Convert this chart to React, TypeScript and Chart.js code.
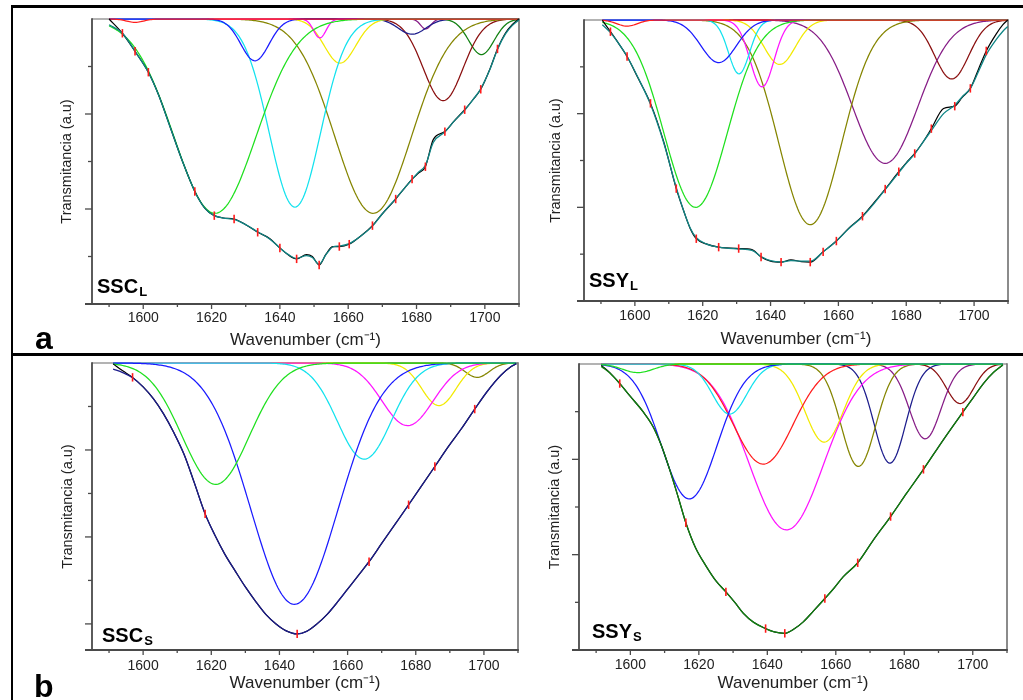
import React, { useEffect, useRef } from 'react';
import { Chart, registerables } from 'chart.js';

Chart.register(...registerables);

const FONT = "'Liberation Sans', Arial, Helvetica, sans-serif";

// ---- shared axis values ----
const X_MIN = 1585;
const X_MAX = 1710;
const X_LABELS = [1600, 1620, 1640, 1660, 1680, 1700];
const X_TICK_MARKS = [1590, 1600, 1610, 1620, 1630, 1640, 1650, 1660, 1670, 1680, 1690, 1700, 1710];
const Y_TICK_MARKS = [1, 2, 3, 4, 5, 6];

const COL = {
  red: '#ff1c1c', green: '#1ee01e', blue: '#1a1aff', cyan: '#12e2ee', magenta: '#ff14ff',
  yellow: '#f2ea00', dkyellow: '#858500', navy: '#1c1c8c', purple: '#861c86', wine: '#8a0f0f',
  olive: '#118011', dkcyan: '#0f8585', black: '#000000',
};

// ---- SSC_L : deconvolution bands (center cm-1, depth a.u., sigma cm-1) ----
const SSCL_BAND_CENTER = [1597.6, 1621.0, 1632.7, 1644.4, 1651.7, 1657.6, 1667.3, 1678.7, 1682.7, 1687.8, 1699.0];
const SSCL_BAND_DEPTH = [0.07, 4.09, 0.88, 3.96, 0.40, 0.93, 4.09, 0.32, 0.21, 1.72, 0.75];
const SSCL_BAND_SIGMA = [2.5, 12.0, 4.1, 7.5, 1.8, 4.6, 11.2, 4.0, 1.5, 5.8, 3.7];
const SSCL_BAND_COLOR = [COL.red, COL.green, COL.blue, COL.cyan, COL.magenta, COL.yellow, COL.dkyellow, COL.navy, COL.purple, COL.wine, COL.olive];
const SSCL_X = [1590.0, 1593.9, 1597.6, 1601.5, 1604.5, 1608.0, 1611.5, 1615.1, 1618.0, 1620.8, 1623.5, 1626.6, 1630.0, 1633.5, 1637.0, 1640.0, 1642.5, 1644.9, 1647.8, 1649.5, 1651.5, 1653.5, 1655.5, 1657.4, 1660.3, 1663.5, 1667.1, 1670.0, 1673.9, 1676.5, 1678.7, 1680.5, 1682.6, 1684.9, 1688.3, 1691.0, 1694.1, 1696.5, 1698.8, 1701.5, 1703.7, 1706.0, 1708.0, 1710.0];
const SSCL_MEAS = [0.00, 0.30, 0.68, 1.12, 1.60, 2.30, 3.00, 3.63, 3.98, 4.14, 4.19, 4.21, 4.33, 4.49, 4.62, 4.82, 4.97, 5.05, 4.96, 5.00, 5.18, 4.95, 4.79, 4.79, 4.74, 4.58, 4.35, 4.10, 3.79, 3.56, 3.37, 3.25, 3.11, 2.54, 2.37, 2.15, 1.91, 1.70, 1.48, 1.05, 0.63, 0.30, 0.12, 0.00];
const SSCL_FIT = [0.12, 0.30, 0.68, 1.12, 1.60, 2.30, 3.00, 3.63, 3.98, 4.14, 4.19, 4.22, 4.33, 4.48, 4.63, 4.82, 4.96, 5.04, 4.98, 5.02, 5.16, 4.96, 4.80, 4.78, 4.73, 4.58, 4.36, 4.10, 3.78, 3.56, 3.38, 3.23, 3.08, 2.60, 2.38, 2.15, 1.92, 1.70, 1.47, 1.06, 0.64, 0.32, 0.14, 0.02];
const SSCL_MARK_X = [1593.9, 1597.6, 1601.5, 1615.1, 1620.8, 1626.6, 1633.5, 1640.0, 1644.9, 1651.5, 1657.4, 1660.3, 1667.1, 1673.9, 1678.7, 1682.6, 1688.3, 1694.1, 1698.8, 1703.7];
const SSCL_MARK_Y = [0.30, 0.68, 1.12, 3.63, 4.14, 4.21, 4.49, 4.82, 5.05, 5.18, 4.79, 4.74, 4.35, 3.79, 3.37, 3.11, 2.37, 1.91, 1.48, 0.63];

// ---- SSY_L ----
const SSYL_BAND_CENTER = [1597.7, 1617.9, 1624.7, 1630.7, 1637.5, 1642.7, 1651.7, 1673.8, 1693.4];
const SSYL_BAND_DEPTH = [0.13, 4.00, 0.91, 1.15, 1.43, 0.95, 4.37, 3.06, 1.26];
const SSYL_BAND_SIGMA = [3.0, 9.3, 5.2, 3.1, 3.5, 4.6, 9.2, 9.6, 5.0];
const SSYL_BAND_COLOR = [COL.red, COL.green, COL.blue, COL.cyan, COL.magenta, COL.yellow, COL.dkyellow, COL.purple, COL.wine];
const SSYL_X = [1590.4, 1592.8, 1595.2, 1597.7, 1601.0, 1604.6, 1608.5, 1612.2, 1614.5, 1616.3, 1618.1, 1621.0, 1624.7, 1630.6, 1634.5, 1637.2, 1640.0, 1643.1, 1646.0, 1649.0, 1651.7, 1655.5, 1659.4, 1663.0, 1667.1, 1670.5, 1673.8, 1677.8, 1680.0, 1682.5, 1685.0, 1687.4, 1691.0, 1694.3, 1696.5, 1698.9, 1701.3, 1703.6, 1706.5, 1708.5, 1709.9];
const SSYL_MEAS = [0.01, 0.25, 0.50, 0.78, 1.25, 1.78, 2.60, 3.60, 4.10, 4.45, 4.67, 4.78, 4.85, 4.88, 4.90, 5.06, 5.15, 5.17, 5.12, 5.16, 5.17, 4.95, 4.72, 4.45, 4.19, 3.90, 3.61, 3.24, 3.05, 2.85, 2.60, 2.32, 1.89, 1.84, 1.65, 1.46, 1.05, 0.66, 0.30, 0.10, 0.00];
const SSYL_FIT = [0.10, 0.27, 0.50, 0.78, 1.24, 1.80, 2.62, 3.58, 4.10, 4.44, 4.65, 4.78, 4.85, 4.89, 4.92, 5.05, 5.14, 5.17, 5.14, 5.15, 5.15, 4.95, 4.72, 4.46, 4.20, 3.92, 3.62, 3.26, 3.06, 2.86, 2.60, 2.36, 2.00, 1.82, 1.64, 1.46, 1.10, 0.74, 0.42, 0.24, 0.14];
const SSYL_MARK_X = [1592.8, 1597.7, 1604.6, 1612.2, 1618.1, 1624.7, 1630.6, 1637.2, 1643.1, 1651.7, 1655.5, 1659.4, 1667.1, 1673.8, 1677.8, 1682.5, 1687.4, 1694.3, 1698.9, 1703.6];
const SSYL_MARK_Y = [0.25, 0.78, 1.78, 3.60, 4.67, 4.85, 4.88, 5.06, 5.17, 5.17, 4.95, 4.72, 4.19, 3.61, 3.24, 2.85, 2.32, 1.84, 1.46, 0.66];

// ---- SSC_S ----
const SSCS_BAND_CENTER = [1621.3, 1644.4, 1664.9, 1677.6, 1686.8, 1698.0];
const SSCS_BAND_DEPTH = [2.79, 5.55, 2.21, 1.44, 0.98, 0.33];
const SSCS_BAND_SIGMA = [9.8, 12.8, 7.9, 7.5, 5.0, 3.5];
const SSCS_BAND_COLOR = [COL.green, COL.blue, COL.cyan, COL.magenta, COL.yellow, COL.dkyellow];
const SSCS_X = [1591.2, 1594.0, 1596.9, 1600.0, 1603.0, 1606.0, 1609.0, 1612.0, 1615.0, 1618.2, 1621.0, 1624.0, 1627.0, 1630.0, 1633.0, 1636.0, 1639.0, 1642.0, 1645.2, 1648.0, 1651.0, 1654.0, 1657.0, 1660.0, 1663.0, 1666.3, 1670.0, 1674.0, 1677.9, 1681.5, 1685.6, 1689.5, 1693.5, 1697.3, 1701.0, 1705.0, 1708.0, 1709.5];
const SSCS_MEAS = [0.02, 0.18, 0.33, 0.55, 0.82, 1.17, 1.60, 2.10, 2.75, 3.47, 3.95, 4.40, 4.78, 5.15, 5.48, 5.78, 6.00, 6.16, 6.23, 6.17, 6.00, 5.78, 5.50, 5.20, 4.90, 4.57, 4.15, 3.70, 3.26, 2.85, 2.38, 1.93, 1.50, 1.06, 0.65, 0.28, 0.08, 0.02];
const SSCS_FIT = [0.14, 0.22, 0.34, 0.55, 0.82, 1.17, 1.60, 2.10, 2.75, 3.47, 3.95, 4.40, 4.78, 5.15, 5.48, 5.78, 6.00, 6.16, 6.23, 6.17, 6.00, 5.78, 5.50, 5.20, 4.90, 4.57, 4.15, 3.70, 3.26, 2.85, 2.38, 1.93, 1.50, 1.06, 0.65, 0.28, 0.08, 0.02];
const SSCS_MARK_X = [1596.9, 1618.2, 1645.2, 1666.3, 1677.9, 1685.6, 1697.3];
const SSCS_MARK_Y = [0.33, 3.47, 6.23, 4.57, 3.26, 2.38, 1.06];

// ---- SSY_S ----
const SSYS_BAND_CENTER = [1602.2, 1617.2, 1629.0, 1638.8, 1645.6, 1656.6, 1666.6, 1675.8, 1686.1, 1696.3];
const SSYS_BAND_DEPTH = [0.18, 2.83, 1.05, 2.10, 3.48, 1.64, 2.15, 2.08, 1.57, 0.83];
const SSYS_BAND_SIGMA = [4.5, 8.1, 5.0, 8.7, 10.8, 5.6, 5.0, 4.6, 4.6, 4.0];
const SSYS_BAND_COLOR = [COL.green, COL.blue, COL.cyan, COL.red, COL.magenta, COL.yellow, COL.dkyellow, COL.navy, COL.purple, COL.wine];
const SSYS_X = [1591.5, 1594.0, 1596.9, 1600.0, 1603.7, 1606.6, 1609.0, 1611.5, 1614.0, 1616.2, 1619.0, 1622.2, 1625.0, 1627.9, 1630.5, 1633.0, 1636.0, 1639.5, 1642.0, 1645.1, 1648.0, 1650.5, 1653.5, 1656.8, 1659.5, 1662.2, 1666.4, 1671.0, 1676.0, 1680.7, 1685.6, 1691.4, 1697.1, 1700.0, 1703.1, 1706.0, 1708.8];
const SSYS_MEAS = [0.03, 0.18, 0.41, 0.68, 1.00, 1.31, 1.70, 2.22, 2.80, 3.33, 3.85, 4.25, 4.55, 4.78, 5.00, 5.23, 5.42, 5.55, 5.62, 5.65, 5.55, 5.41, 5.18, 4.92, 4.70, 4.46, 4.17, 3.69, 3.20, 2.71, 2.21, 1.59, 1.01, 0.72, 0.41, 0.18, 0.02];
const SSYS_FIT = [0.05, 0.19, 0.41, 0.68, 1.00, 1.31, 1.70, 2.22, 2.80, 3.33, 3.85, 4.25, 4.55, 4.78, 5.00, 5.23, 5.42, 5.55, 5.62, 5.65, 5.55, 5.41, 5.18, 4.92, 4.70, 4.46, 4.17, 3.69, 3.20, 2.71, 2.21, 1.59, 1.01, 0.72, 0.41, 0.18, 0.02];
const SSYS_MARK_X = [1596.9, 1616.2, 1627.9, 1639.5, 1645.1, 1656.8, 1666.4, 1676.0, 1685.6, 1697.1];
const SSYS_MARK_Y = [0.41, 3.33, 4.78, 5.55, 5.65, 4.92, 4.17, 3.20, 2.21, 1.01];

type PanelSpec = {
  key: string; L: number; T: number; R: number; B: number; yMax: number;
  xStart: number; xEnd: number;
  centers: number[]; depths: number[]; sigmas: number[]; colors: string[];
  xs: number[]; meas: number[]; fit: number[]; fitColor: string;
  markX: number[]; markY: number[];
  yTitleOff: number; xTitleOff: number; tickLabelOff: number;
};

const PANELS: PanelSpec[] = [
  { key: 'sscl', L: 92, T: 19, R: 519, B: 304, yMax: 6, xStart: 1590.0, xEnd: 1710,
    centers: SSCL_BAND_CENTER, depths: SSCL_BAND_DEPTH, sigmas: SSCL_BAND_SIGMA, colors: SSCL_BAND_COLOR,
    xs: SSCL_X, meas: SSCL_MEAS, fit: SSCL_FIT, fitColor: COL.dkcyan, markX: SSCL_MARK_X, markY: SSCL_MARK_Y,
    yTitleOff: 25, xTitleOff: 36, tickLabelOff: 14 },
  { key: 'ssyl', L: 584, T: 20, R: 1008, B: 301, yMax: 6, xStart: 1590.4, xEnd: 1710,
    centers: SSYL_BAND_CENTER, depths: SSYL_BAND_DEPTH, sigmas: SSYL_BAND_SIGMA, colors: SSYL_BAND_COLOR,
    xs: SSYL_X, meas: SSYL_MEAS, fit: SSYL_FIT, fitColor: COL.dkcyan, markX: SSYL_MARK_X, markY: SSYL_MARK_Y,
    yTitleOff: 28, xTitleOff: 38, tickLabelOff: 15 },
  { key: 'sscs', L: 92, T: 363, R: 518, B: 650, yMax: 6.6, xStart: 1591.2, xEnd: 1709.5,
    centers: SSCS_BAND_CENTER, depths: SSCS_BAND_DEPTH, sigmas: SSCS_BAND_SIGMA, colors: SSCS_BAND_COLOR,
    xs: SSCS_X, meas: SSCS_MEAS, fit: SSCS_FIT, fitColor: COL.navy, markX: SSCS_MARK_X, markY: SSCS_MARK_Y,
    yTitleOff: 24, xTitleOff: 33, tickLabelOff: 16 },
  { key: 'ssys', L: 579, T: 364, R: 1007, B: 650, yMax: 6, xStart: 1591.5, xEnd: 1708.8,
    centers: SSYS_BAND_CENTER, depths: SSYS_BAND_DEPTH, sigmas: SSYS_BAND_SIGMA, colors: SSYS_BAND_COLOR,
    xs: SSYS_X, meas: SSYS_MEAS, fit: SSYS_FIT, fitColor: COL.olive, markX: SSYS_MARK_X, markY: SSYS_MARK_Y,
    yTitleOff: 24, xTitleOff: 33, tickLabelOff: 15 },
];

const AX_W = 70; // y-axis box width
const AX_H = 50; // x-axis box height
const PAD_T = 6;
const PAD_R = 6;

// Gaussian band profile from the band parameters
function bandPoints(c: number, d: number, s: number, x0: number, x1: number) {
  const pts: { x: number; y: number }[] = [];
  const n = Math.round((x1 - x0) / 0.4);
  for (let i = 0; i <= n; i++) {
    const x = x0 + ((x1 - x0) * i) / n;
    pts.push({ x, y: d * Math.exp(-((x - c) * (x - c)) / (2 * s * s)) });
  }
  return pts;
}

function seg(ctx: CanvasRenderingContext2D, x1: number, y1: number, x2: number, y2: number, color: string, w: number) {
  ctx.beginPath();
  ctx.strokeStyle = color;
  ctx.lineWidth = w;
  ctx.moveTo(x1, y1);
  ctx.lineTo(x2, y2);
  ctx.stroke();
}

const frameAxes = {
  id: 'frameAxes',
  beforeDatasetsDraw(chart: any) {
    const { ctx, chartArea: a, scales } = chart;
    const xs = scales.x;
    const ys = scales.y;
    ctx.save();
    ctx.lineCap = 'butt';
    seg(ctx, a.left, a.top, a.right, a.top, '#9a9a9a', 1.6);
    seg(ctx, a.right, a.top - 0.8, a.right, a.bottom, '#6e6e6e', 1.6);
    seg(ctx, a.left, a.top - 0.8, a.left, a.bottom, '#4a4a4a', 1.8);
    seg(ctx, a.left - 7, a.bottom, a.right + 0.8, a.bottom, '#4a4a4a', 1.8);
    Y_TICK_MARKS.forEach((v) => {
      if (v > ys.max) return;
      const py = ys.getPixelForValue(v);
      const len = v % 2 === 0 ? 7 : 4;
      seg(ctx, a.left - len, py, a.left, py, '#4a4a4a', 1.3);
    });
    X_TICK_MARKS.forEach((v) => {
      const px = xs.getPixelForValue(v);
      const len = v % 20 === 0 ? 5 : 3;
      seg(ctx, px, a.bottom, px, a.bottom + len, '#4a4a4a', 1.3);
    });
    ctx.restore();
  },
};

function Panel({ spec }: { spec: PanelSpec }) {
  const ref = useRef<HTMLCanvasElement | null>(null);
  const W = spec.R - spec.L + AX_W + PAD_R;
  const H = spec.B - spec.T + PAD_T + AX_H;

  useEffect(() => {
    if (!ref.current) return;
    const datasets: any[] = [];
    datasets.push({
      label: 'marks',
      data: spec.markX.map((x, i) => ({ x, y: spec.markY[i] })),
      showLine: false,
      pointStyle: 'line',
      pointRotation: 90,
      pointRadius: 4.2,
      pointBorderColor: '#ff1a1a',
      pointBorderWidth: 1.6,
      borderColor: '#ff1a1a',
      backgroundColor: '#ff1a1a',
      clip: 8,
    });
    datasets.push({
      label: 'fit',
      data: spec.xs.map((x, i) => ({ x, y: spec.fit[i] })),
      borderColor: spec.fitColor,
      borderWidth: 1.3,
      pointRadius: 0,
      cubicInterpolationMode: 'monotone',
      clip: 3,
    });
    datasets.push({
      label: 'measured',
      data: spec.xs.map((x, i) => ({ x, y: spec.meas[i] })),
      borderColor: COL.black,
      borderWidth: 1.2,
      pointRadius: 0,
      cubicInterpolationMode: 'monotone',
      clip: 3,
    });
    spec.centers.forEach((c, i) => {
      datasets.push({
        label: 'band ' + c,
        data: bandPoints(c, spec.depths[i], spec.sigmas[i], spec.xStart, spec.xEnd),
        borderColor: spec.colors[i],
        borderWidth: 1.25,
        pointRadius: 0,
        clip: 3,
      });
    });

    const chart = new Chart(ref.current, {
      type: 'line',
      data: { datasets },
      plugins: [frameAxes],
      options: {
        responsive: false,
        animation: false,
        devicePixelRatio: 1,
        parsing: false as any,
        normalized: true,
        layout: { padding: { top: PAD_T, right: PAD_R, left: 0, bottom: 0 } },
        plugins: { legend: { display: false }, tooltip: { enabled: false } },
        events: [],
        scales: {
          x: {
            type: 'linear',
            min: X_MIN,
            max: X_MAX,
            afterBuildTicks: (s: any) => { s.ticks = X_LABELS.map((v) => ({ value: v })); },
            afterFit: (s: any) => { s.height = AX_H; },
            grid: { display: false, drawTicks: false },
            border: { display: false },
            ticks: {
              font: { family: FONT, size: 14 },
              color: '#222',
              padding: spec.tickLabelOff - 8.4,
              maxRotation: 0,
              autoSkip: false,
              callback: (v: any) => String(v),
            },
            title: {
              display: true,
              text: 'Wavenumber (cm⁻¹)',
              font: { family: FONT, size: 17 },
              color: '#222',
              padding: { top: 0, bottom: AX_H - spec.xTitleOff - 10.2 },
            },
          },
          y: {
            type: 'linear',
            reverse: true,
            min: 0,
            max: spec.yMax,
            afterFit: (s: any) => { s.width = AX_W; },
            grid: { display: false, drawTicks: false },
            border: { display: false },
            ticks: { display: false },
            title: {
              display: true,
              text: 'Transmitancia (a.u)',
              font: { family: FONT, size: 14.5 },
              color: '#222',
              padding: { top: AX_W - spec.yTitleOff - 8.7, bottom: 0 },
            },
          },
        },
      } as any,
    });
    return () => chart.destroy();
  }, []);

  return (
    <canvas
      ref={ref}
      width={W}
      height={H}
      style={{ position: 'absolute', left: spec.L - AX_W, top: spec.T - PAD_T, width: W, height: H }}
    />
  );
}

const LABELS = [
  { main: 'SSC', sub: 'L', left: 97, top: 276 },
  { main: 'SSY', sub: 'L', left: 589, top: 270 },
  { main: 'SSC', sub: 'S', left: 102, top: 625 },
  { main: 'SSY', sub: 'S', left: 592, top: 621 },
];

export default function App() {
  const line = (s: React.CSSProperties) => <div style={{ position: 'absolute', background: '#000', ...s }} />;
  return (
    <div style={{ position: 'absolute', left: 0, top: 0, width: 1023, height: 700, background: '#fff', overflow: 'hidden', fontFamily: FONT }}>
      {line({ left: 11, top: 5, width: 1012, height: 3 })}
      {line({ left: 11, top: 5, width: 2, height: 695 })}
      {line({ left: 11, top: 353, width: 1012, height: 3 })}
      {PANELS.map((p) => <Panel key={p.key} spec={p} />)}
      {LABELS.map((l, i) => (
        <div key={i} style={{ position: 'absolute', left: l.left, top: l.top, fontWeight: 'bold', fontSize: 20, lineHeight: '20px', color: '#000', whiteSpace: 'nowrap' }}>
          {l.main}
          <span style={{ fontSize: 13, position: 'relative', top: 3, marginLeft: 1 }}>{l.sub}</span>
        </div>
      ))}
      <div style={{ position: 'absolute', left: 35, top: 322, fontWeight: 'bold', fontSize: 32, lineHeight: '32px', color: '#000' }}>a</div>
      <div style={{ position: 'absolute', left: 34, top: 670, fontWeight: 'bold', fontSize: 32, lineHeight: '32px', color: '#000' }}>b</div>
    </div>
  );
}
